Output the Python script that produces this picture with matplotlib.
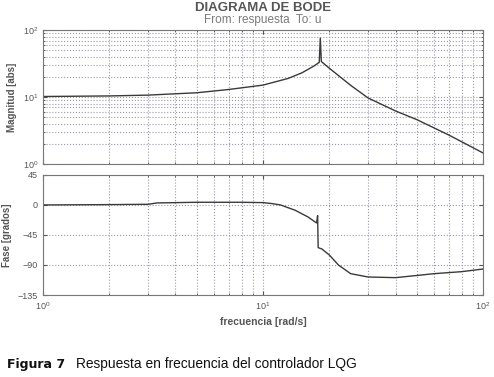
import matplotlib
matplotlib.use("Agg")
import matplotlib.pyplot as plt
import numpy as np

plt.rcParams['font.family'] = ['Liberation Sans', 'DejaVu Sans']

# magnitude response (rad/s, abs)
freq_mag = [1, 2, 3, 5, 7, 10, 13, 15, 17, 18, 18.2, 18.4, 20, 25, 30, 40, 50, 70, 100]
mag = [10.2, 10.4, 10.7, 11.6, 13.0, 15.1, 19.0, 23.0, 29.0, 33.0, 76.0, 34.0, 27.0,
       15.0, 9.7, 6.2, 4.6, 2.7, 1.46]

# phase response (rad/s, grados)
freq_ph = [1, 2, 3, 3.3, 5, 8, 10, 11, 12, 14, 16, 17.5, 17.7, 17.8, 18.5, 20, 22, 25,
           30, 40, 60, 80, 100]
phase = [0, 0.5, 1, 3, 4, 4, 3.5, 2, 0, -8, -18, -27, -16, -64, -66, -75, -90, -103,
         -108, -109, -103, -100, -96]

txt = '#555555'
line_c = '#3a3a3a'
grid_kw = dict(color='#9a9aa8', linestyle=':', linewidth=0.8)

fig = plt.figure(figsize=(4.94, 3.77), dpi=100)
ax1 = fig.add_axes([0.087, 0.565, 0.891, 0.355])
ax2 = fig.add_axes([0.087, 0.2175, 0.891, 0.3185])

ax1.loglog(freq_mag, mag, color=line_c, linewidth=1.0)
ax1.set_xlim(1, 100)
ax1.set_ylim(1, 100)
ax1.grid(True, which='both', **grid_kw)
ax1.tick_params(axis='x', which='both', labelbottom=False)
ax1.set_ylabel('Magnitud [abs]', fontsize=7, fontweight='bold', color=txt)

ax2.semilogx(freq_ph, phase, color=line_c, linewidth=1.0)
ax2.set_xlim(1, 100)
ax2.set_ylim(-135, 45)
ax2.set_yticks([45, 0, -45, -90, -135])
ax2.grid(True, which='both', **grid_kw)
ax2.set_ylabel('Fase [grados]', fontsize=7, fontweight='bold', color=txt)
ax2.set_xlabel('frecuencia [rad/s]', fontsize=7.5, fontweight='bold', color=txt)

for ax in (ax1, ax2):
    ax.tick_params(which='both', direction='in', labelsize=6.5, colors=txt,
                   top=True, right=True, length=3)
    ax.tick_params(which='minor', length=1.5)
    for s in ax.spines.values():
        s.set_color('#777777')

fig.text(0.532, 0.972, 'DIAGRAMA DE BODE', ha='center', va='baseline', fontsize=9.5,
         fontweight='bold', color=txt)
fig.text(0.532, 0.939, 'From: respuesta  To: u', ha='center', va='baseline', fontsize=8.5,
         color='#7a7a7a')

fig.text(0.014, 0.025, 'Figura 7', fontsize=9, fontweight='bold', color='#111111',
         family='DejaVu Sans')
fig.text(0.154, 0.025, 'Respuesta en frecuencia del controlador LQG', fontsize=9.9,
         color='#111111')

fig.savefig('out.png', dpi=100)
